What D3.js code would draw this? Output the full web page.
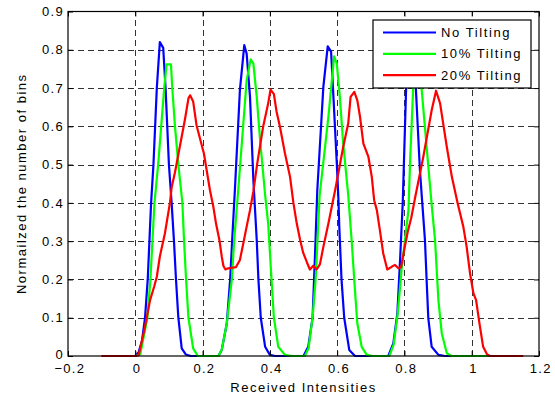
<!DOCTYPE html>
<html lang="en">
<head>
  <meta charset="utf-8">
  <title>Received intensities</title>
  <script src="https://d3js.org/d3.v7.min.js"></script>
  <style>
  body{ margin:0; background:#fff; }
  text{ font-family:"Liberation Sans", Arial, Helvetica, sans-serif; fill:#000; }
  .grid line{ stroke:#333; stroke-width:1; stroke-dasharray:6,4; }
  .curve{ fill:none; stroke-width:2.2; stroke-linejoin:round; }
  </style>
</head>
<body>
<script>
var width = 555;
var height = 396;

// series, [intensity, normalized bins]
var noTilting = [[-0.1,0],[0.0,0],[0.01,0.01],[0.02,0.04],[0.029,0.1],[0.037,0.2],[0.042,0.3],[0.047,0.4],[0.054,0.5],[0.064,0.7],[0.073,0.82],[0.083,0.805],[0.09,0.7],[0.1,0.5],[0.108,0.4],[0.115,0.3],[0.121,0.2],[0.128,0.1],[0.138,0.02],[0.15,0.004],[0.165,0],
  [0.247,0],[0.257,0.016],[0.272,0.085],[0.282,0.2],[0.288,0.303],[0.296,0.433],[0.311,0.695],[0.324,0.812],[0.331,0.79],[0.341,0.677],[0.351,0.46],[0.361,0.303],[0.366,0.2],[0.373,0.1],[0.386,0.024],[0.4,0.003],[0.415,0],
  [0.5,0],[0.514,0.024],[0.527,0.1],[0.534,0.259],[0.541,0.433],[0.559,0.703],[0.572,0.809],[0.582,0.795],[0.589,0.677],[0.599,0.503],[0.604,0.407],[0.606,0.346],[0.613,0.2],[0.621,0.1],[0.636,0.016],[0.653,0],
  [0.752,0],[0.767,0.033],[0.779,0.111],[0.787,0.25],[0.795,0.4],[0.805,0.699],[0.822,0.815],[0.834,0.699],[0.846,0.486],[0.853,0.4],[0.861,0.303],[0.866,0.198],[0.871,0.098],[0.881,0.024],[0.901,0.003],[0.92,0],[1.15,0]];

var tilting10 = [[-0.1,0],[0.0,0],[0.015,0.005],[0.036,0.1],[0.045,0.2],[0.051,0.3],[0.057,0.4],[0.068,0.5],[0.086,0.7],[0.093,0.762],[0.106,0.762],[0.11,0.7],[0.118,0.6],[0.128,0.5],[0.14,0.4],[0.145,0.3],[0.151,0.2],[0.158,0.1],[0.172,0.02],[0.186,0],
  [0.247,0],[0.257,0.016],[0.272,0.085],[0.287,0.2],[0.294,0.303],[0.306,0.433],[0.331,0.72],[0.343,0.775],[0.351,0.764],[0.361,0.677],[0.371,0.564],[0.386,0.42],[0.395,0.346],[0.405,0.2],[0.412,0.1],[0.425,0.024],[0.445,0.003],[0.465,0],
  [0.504,0],[0.515,0.02],[0.527,0.1],[0.536,0.2],[0.548,0.42],[0.574,0.625],[0.591,0.783],[0.599,0.764],[0.608,0.677],[0.618,0.555],[0.633,0.42],[0.643,0.303],[0.653,0.172],[0.66,0.085],[0.673,0.024],[0.688,0.003],[0.705,0],
  [0.755,0],[0.768,0.03],[0.78,0.11],[0.792,0.23],[0.812,0.381],[0.817,0.512],[0.826,0.699],[0.84,0.77],[0.851,0.699],[0.866,0.546],[0.881,0.395],[0.891,0.303],[0.901,0.146],[0.911,0.059],[0.926,0.007],[0.94,0],[1.15,0]];

var tilting20 = [[-0.1,0],[0.0,0],[0.01,0.002],[0.027,0.068],[0.044,0.146],[0.056,0.181],[0.064,0.207],[0.073,0.26],[0.088,0.32],[0.103,0.4],[0.108,0.44],[0.118,0.48],[0.133,0.55],[0.148,0.62],[0.158,0.673],[0.163,0.681],[0.172,0.665],[0.182,0.603],[0.204,0.529],[0.222,0.433],[0.232,0.39],[0.24,0.346],[0.25,0.303],[0.257,0.26],[0.262,0.235],[0.268,0.226],[0.276,0.229],[0.291,0.231],[0.299,0.232],[0.311,0.251],[0.321,0.294],[0.331,0.338],[0.341,0.381],[0.351,0.43],[0.362,0.5],[0.38,0.599],[0.395,0.66],[0.402,0.696],[0.412,0.684],[0.42,0.638],[0.43,0.599],[0.445,0.529],[0.46,0.468],[0.47,0.4],[0.48,0.346],[0.49,0.303],[0.499,0.27],[0.51,0.245],
  [0.519,0.226],[0.529,0.236],[0.539,0.226],[0.549,0.24],[0.559,0.285],[0.574,0.346],[0.584,0.39],[0.594,0.433],[0.618,0.546],[0.633,0.608],[0.64,0.677],[0.651,0.69],[0.66,0.668],[0.668,0.625],[0.678,0.555],[0.693,0.52],[0.703,0.468],[0.71,0.407],[0.718,0.381],[0.727,0.329],[0.737,0.268],[0.749,0.226],
  [0.762,0.233],[0.772,0.238],[0.782,0.229],[0.79,0.232],[0.8,0.28],[0.81,0.325],[0.82,0.36],[0.831,0.41],[0.856,0.52],[0.881,0.642],[0.894,0.693],[0.906,0.66],[0.926,0.546],[0.941,0.468],[0.958,0.4],[0.975,0.338],[0.985,0.285],[0.995,0.216],[1.005,0.164],[1.013,0.146],[1.023,0.085],[1.034,0.024],[1.045,0.005],[1.054,0],[1.153,0]];

var xTicks = [-0.2,0,0.2,0.4,0.6,0.8,1,1.2];
var yTicks = [0,0.1,0.2,0.3,0.4,0.5,0.6,0.7,0.8,0.9];
var seriesNames = ["No Tilting","10% Tilting","20% Tilting"];
var seriesColors = ["#0000ff","#00ff00","#ff0000"];

var margin = {left:68, right:16, top:11.5, bottom:40};

var svg = d3.select("body").append("svg")
  .attr("width",width)
  .attr("height",height);

var x = d3.scaleLinear().domain([-0.2,1.2]).range([margin.left, width-margin.right]);
var y = d3.scaleLinear().domain([0,0.9]).range([height-margin.bottom, margin.top]);

// dashed grid (inner lines only)
var grid = svg.append("g").attr("class","grid");
grid.selectAll(".gx")
  .data(xTicks.slice(1,-1))
  .enter().append("line")
  .attr("x1",function(d){ return Math.round(x(d))+0.5; })
  .attr("x2",function(d){ return Math.round(x(d))+0.5; })
  .attr("y1",y(0)).attr("y2",y(0.9));
grid.selectAll(".gy")
  .data(yTicks.slice(1,-1))
  .enter().append("line")
  .attr("y1",function(d){ return Math.round(y(d))+0.5; })
  .attr("y2",function(d){ return Math.round(y(d))+0.5; })
  .attr("x1",x(-0.2)).attr("x2",x(1.2));

// curves
var line = d3.line()
  .x(function(d){ return x(d[0]); })
  .y(function(d){ return y(d[1]); });

var curves = svg.append("g");
[noTilting, tilting10, tilting20].forEach(function(s,i){
  curves.append("path")
    .datum(s)
    .attr("class","curve")
    .attr("stroke",seriesColors[i])
    .attr("d",line);
});

// axes, ticks pointing inward like matlab
var fmt = function(d){ return d3.format("")(+d.toFixed(1)); };
var tickLen = 5;

var xb = svg.append("g")
  .attr("transform","translate(0,"+y(0)+")")
  .call(d3.axisBottom(x).tickValues(xTicks).tickSizeInner(-tickLen).tickSizeOuter(0).tickPadding(7.5).tickFormat(fmt));
xb.selectAll(".tick text").attr("dx","0.1em");
svg.append("g")
  .attr("transform","translate(0,"+y(0.9)+")")
  .call(d3.axisTop(x).tickValues(xTicks).tickSizeInner(-tickLen).tickSizeOuter(0).tickFormat(""));
var yl = svg.append("g")
  .attr("transform","translate("+x(-0.2)+",0)")
  .call(d3.axisLeft(y).tickValues(yTicks).tickSizeInner(-tickLen).tickSizeOuter(0).tickPadding(4).tickFormat(fmt));
// lift the bottom "0" a little so it clears the -0.2 below it
yl.selectAll(".tick text").filter(function(d){ return d === 0; }).attr("y",-2);
svg.append("g")
  .attr("transform","translate("+x(1.2)+",0)")
  .call(d3.axisRight(y).tickValues(yTicks).tickSizeInner(-tickLen).tickSizeOuter(0).tickFormat(""));

svg.selectAll(".tick text")
  .attr("font-size",13)
  .style("letter-spacing","1.3px")
  .attr("font-family",null);
svg.selectAll(".domain").remove();
svg.selectAll(".tick line").attr("stroke","#000");

svg.append("rect")
  .attr("x",x(-0.2)).attr("y",y(0.9))
  .attr("width",x(1.2)-x(-0.2)).attr("height",y(0)-y(0.9))
  .attr("fill","none").attr("stroke","#000").attr("stroke-width",1.2);

// axis labels
svg.append("text")
  .attr("x",(x(-0.2)+x(1.2))/2)
  .attr("y",392)
  .attr("text-anchor","middle")
  .attr("font-size",13)
  .style("letter-spacing","1.5px")
  .text("Received Intensities");

svg.append("text")
  .attr("transform","translate(26,"+((y(0)+y(0.9))/2)+") rotate(-90)")
  .attr("text-anchor","middle")
  .attr("font-size",13)
  .style("letter-spacing","1.5px")
  .text("Normailzed the number of bins");

// legend
var legend = svg.append("g").attr("transform","translate(373,20)");
legend.append("rect")
  .attr("width",158).attr("height",68)
  .attr("fill","#fff").attr("stroke","#000").attr("stroke-width",1.2);
seriesNames.forEach(function(n,i){
  var row = 12.5 + i*21.3;
  legend.append("line")
    .attr("x1",10).attr("x2",63)
    .attr("y1",row).attr("y2",row)
    .attr("stroke",seriesColors[i]).attr("stroke-width",2.2);
  legend.append("text")
    .attr("x",68).attr("y",row+4.5)
    .attr("font-size",13)
    .style("letter-spacing","1.6px")
    .text(n);
});
</script>
</body>
</html>
